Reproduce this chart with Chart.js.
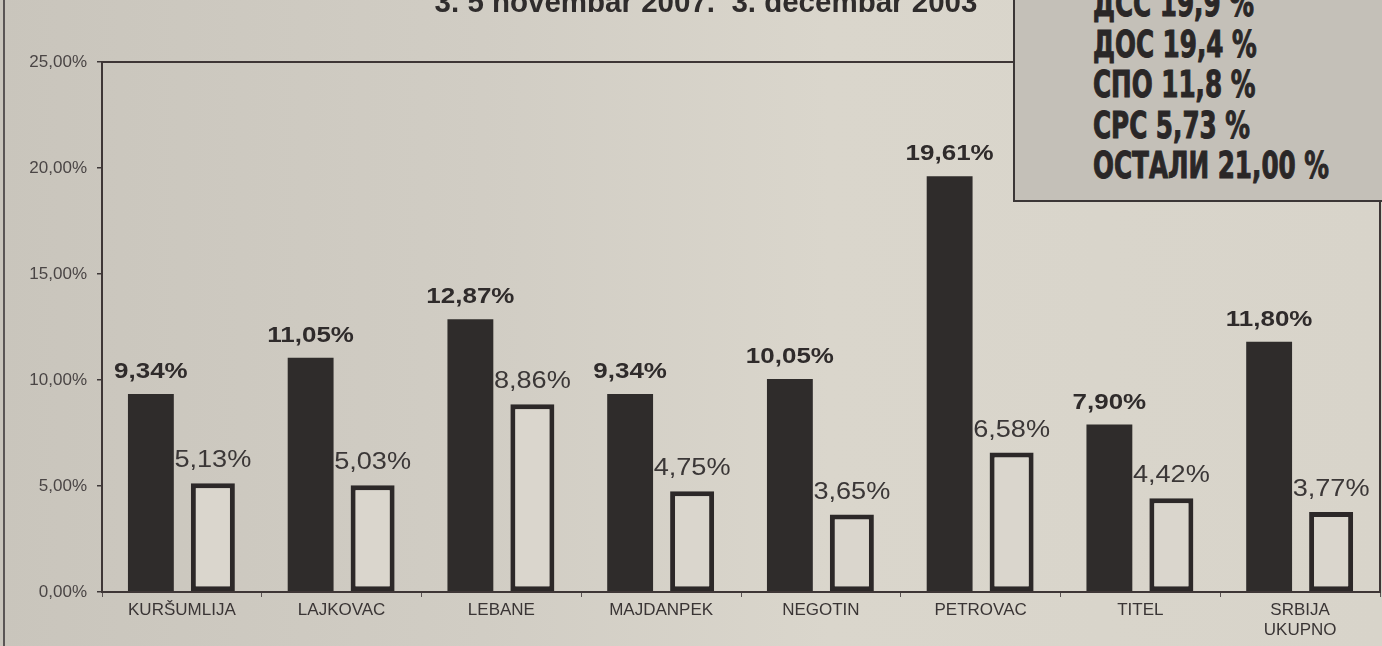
<!DOCTYPE html>
<html>
<head>
<meta charset="utf-8">
<script src="https://cdn.jsdelivr.net/npm/chart.js@4"></script>
<style>
  html, body { margin: 0; padding: 0; }
  body {
    width: 1382px; height: 646px; overflow: hidden; position: relative;
    background: linear-gradient(90deg, #c9c5bc 0%, #d1cdc4 35%, #dad6cc 60%, #d8d4ca 100%);
    font-family: "Liberation Sans", Arial, sans-serif;
  }
  #frame-left { position: absolute; left: 3px; top: 0; width: 2px; height: 646px; background: #5a5555; }
  #title {
    position: absolute; left: 0; width: 1412px; top: -15px; text-align: center;
    font: bold 29.5px "Liberation Sans", Arial, sans-serif; color: #2f2c2c; white-space: nowrap;
  }
  #box {
    position: absolute; left: 1013px; top: -2px; width: 380px; height: 204px;
    background: #c4c0b8; border: 2px solid #3b3636; box-sizing: border-box;
  }
  #box div {
    position: absolute; left: 78px; transform-origin: 0 50%;
    font: bold 38px "Liberation Sans Narrow", "DejaVu Sans Condensed", sans-serif;
    color: #2a2727; white-space: nowrap; line-height: 40px;
    -webkit-text-stroke: 1px #2a2727;
  }
  canvas { position: absolute; left: 0; top: 0; }
</style>
</head>
<body>
<div id="frame-left"></div>
<canvas id="chart" width="1382" height="646"></canvas>
<div id="title">3. 5 novembar 2007.&nbsp; 3. decembar 2003</div>
<div id="box"></div>
<script>
const categories = ["KURŠUMLIJA", "LAJKOVAC", "LEBANE", "MAJDANPEK", "NEGOTIN", "PETROVAC", "TITEL", ["SRBIJA", "UKUPNO"]];
const novembarValues = [9.34, 11.05, 12.87, 9.34, 10.05, 19.61, 7.90, 11.80];
const decembarValues = [5.13, 5.03, 8.86, 4.75, 3.65, 6.58, 4.42, 3.77];
const yTicks = [0, 5, 10, 15, 20, 25];
const boxLines = ["ДСС 19,9 %", "ДОС 19,4 %", "СПО 11,8 %", "СРС 5,73 %", "ОСТАЛИ 21,00 %"];

// results box in the corner, squeezed to the width of the print
const box = document.getElementById("box");
const lineDivs = boxLines.map((t, i) => {
  const d = document.createElement("div");
  d.textContent = t;
  d.style.top = (i * 40.5 - 17) + "px";
  box.appendChild(d);
  return d;
});
const widest = Math.max(...lineDivs.map(d => d.getBoundingClientRect().width));
const squeeze = 236 / widest;
lineDivs.forEach(d => { d.style.transform = `scaleX(${squeeze})`; });

const fmt = v => v.toFixed(2).replace(".", ",") + "%";

// value labels above bars (print font runs wide)
const valueLabels = {
  id: "valueLabels",
  afterDatasetsDraw(chart) {
    const ctx = chart.ctx;
    chart.data.datasets.forEach((ds, di) => {
      const meta = chart.getDatasetMeta(di);
      meta.data.forEach((bar, i) => {
        ctx.save();
        ctx.translate(bar.x, bar.y - 16);
        ctx.scale(1.18, 1);
        ctx.textAlign = "center";
        ctx.textBaseline = "alphabetic";
        ctx.font = (di === 0 ? "bold 22px" : "23px") + " 'Liberation Sans', Arial, sans-serif";
        ctx.fillStyle = di === 0 ? "#2f2b2b" : "#3b3737";
        ctx.fillText(fmt(ds.data[i]), 0, 0);
        ctx.restore();
      });
    });
  }
};

// frame round the plot
const plotFrame = {
  id: "plotFrame",
  afterDraw(chart) {
    const a = chart.chartArea;
    const ctx = chart.ctx;
    ctx.save();
    ctx.strokeStyle = "#3e3636";
    ctx.lineWidth = 2;
    ctx.strokeRect(a.left, a.top, a.right - a.left, a.bottom - a.top);
    ctx.restore();
  }
};

new Chart(document.getElementById("chart"), {
  type: "bar",
  data: {
    labels: categories,
    datasets: [
      {
        data: novembarValues,
        backgroundColor: "#2f2c2b",
        borderWidth: 0,
        categoryPercentage: 0.776,
        barPercentage: 0.74
      },
      {
        data: decembarValues,
        backgroundColor: "#dad6cd",
        borderColor: "#2c2828",
        borderWidth: 5,
        borderSkipped: false,
        categoryPercentage: 0.776,
        barPercentage: 0.71
      }
    ]
  },
  options: {
    responsive: false,
    animation: false,
    layout: { padding: { top: 62, right: 2, left: 0, bottom: 0 } },
    plugins: { legend: { display: false }, tooltip: { enabled: false } },
    scales: {
      y: {
        min: 0,
        max: 25,
        afterBuildTicks: s => { s.ticks = yTicks.map(v => ({ value: v })); },
        afterFit: s => { s.width = 102; },
        ticks: {
          callback: v => fmt(v),
          color: "#4a4545",
          font: { size: 17, family: "'Liberation Sans', Arial, sans-serif" },
          padding: 10
        },
        grid: { drawOnChartArea: false, tickLength: 5, color: "#3e3838", lineWidth: 1.5 },
        border: { display: false }
      },
      x: {
        afterFit: s => { s.height = 54; },
        ticks: {
          color: "#3a3535",
          font: { size: 17, family: "'Liberation Sans', Arial, sans-serif", lineHeight: 1.2 },
          padding: 3,
          maxRotation: 0,
          autoSkip: false
        },
        grid: { drawOnChartArea: false, tickLength: 5, color: "#5a5353", lineWidth: 1 },
        border: { display: false }
      }
    }
  },
  plugins: [valueLabels, plotFrame]
});
</script>
</body>
</html>
